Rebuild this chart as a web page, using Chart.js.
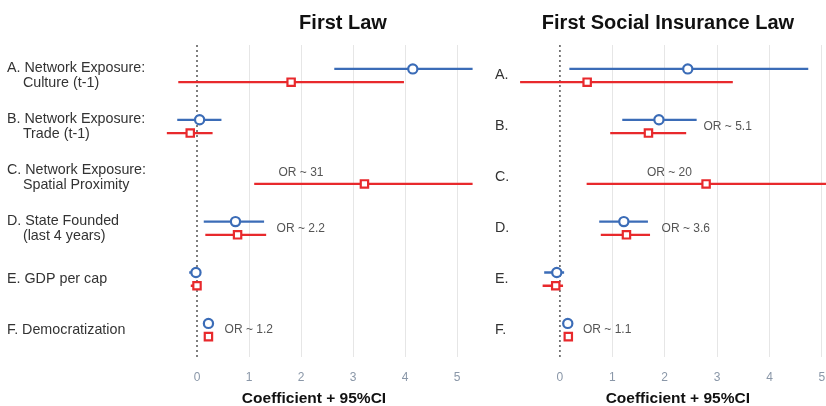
<!DOCTYPE html>
<html>
<head>
<meta charset="utf-8">
<script src="https://cdn.jsdelivr.net/npm/chart.js@4/dist/chart.umd.min.js"></script>
<style>
  html, body { margin: 0; padding: 0; background: #fff; }
  body { width: 826px; height: 406px; overflow: hidden; position: relative;
         font-family: "Liberation Sans", Arial, sans-serif; }
  .panel { position: absolute; top: 0; height: 406px; }
  #leftWrap { left: 0; width: 480px; }
  #rightWrap { left: 480px; width: 365px; }
  .title { position: absolute; top: 11px; font-weight: bold; font-size: 20px;
           color: #111; transform: translateX(-50%); white-space: nowrap; }
</style>
</head>
<body>
<div class="panel" id="leftWrap"><canvas id="lawChart" width="480" height="406"></canvas></div>
<div class="panel" id="rightWrap"><canvas id="silChart" width="365" height="406"></canvas></div>
<div class="title" style="left:343px">First Law</div>
<div class="title" style="left:668px">First Social Insurance Law</div>

<script>
/* =========================
   DATA
========================= */

const lawLabels = [
  ["A. Network Exposure:", "    Culture (t-1)"],
  ["B. Network Exposure:", "    Trade (t-1)"],
  ["C. Network Exposure:", "    Spatial Proximity"],
  ["D. State Founded", "    (last 4 years)"],
  "E. GDP per cap",
  "F. Democratization"
];
const silLabels = ["A.", "B.", "C.", "D.", "E.", "F."];

const xTicks = [0, 1, 2, 3, 4, 5];
const xTitle = "Coefficient + 95%CI";

// First Law: blue = circle, red = square
const lawBlue   = [4.15, 0.05, null, 0.74, -0.02, 0.22];
const lawBlueLo = [2.64, -0.38, null, 0.13, -0.15, 0.19];
const lawBlueHi = [5.60, 0.47, null, 1.29, 0.06, 0.25];
const lawRed    = [1.81, -0.13, 3.22, 0.78, 0.00, 0.22];
const lawRedLo  = [-0.36, -0.58, 1.10, 0.16, -0.12, 0.19];
const lawRedHi  = [3.98, 0.30, 5.60, 1.33, 0.04, 0.25];
const lawOR     = [null, null, "OR ~ 31", "OR ~ 2.2", null, "OR ~ 1.2"];
const lawORAt   = [null, null, 2.0, 1.53, null, 0.53];

// First Social Insurance Law
const silBlue   = [2.44, 1.89, null, 1.22, -0.06, 0.15];
const silBlueLo = [0.18, 1.19, null, 0.75, -0.30, 0.12];
const silBlueHi = [4.74, 2.61, null, 1.68, 0.08, 0.18];
const silRed    = [0.52, 1.69, 2.79, 1.27, -0.08, 0.16];
const silRedLo  = [-0.76, 0.96, 0.51, 0.78, -0.33, 0.13];
const silRedHi  = [3.30, 2.41, 5.60, 1.72, 0.06, 0.19];
const silOR     = [null, "OR ~ 5.1", "OR ~ 20", "OR ~ 3.6", null, "OR ~ 1.1"];
const silORAt   = [null, 2.74, 2.09, 1.94, null, 0.44];


/* =========================
   STYLE
========================= */

const BLUE = "#3b6cb7";
const RED = "#e8292c";
const ROW_SHIFT = 0.13;   // blue above / red below the row line
const FONT = "'Liberation Sans', Arial, sans-serif";


/* =========================
   PLUGIN: zero line, CI bars, OR notes
========================= */

const forestPlugin = {
  id: "forest",
  beforeDatasetsDraw(chart, args, opts) {
    const { ctx, chartArea: a, scales: { x, y } } = chart;
    ctx.save();
    ctx.beginPath();
    ctx.rect(a.left, a.top, a.right - a.left, a.bottom - a.top);
    ctx.clip();

    // dotted zero line
    const x0 = x.getPixelForValue(0);
    ctx.strokeStyle = "#555";
    ctx.lineWidth = 1.5;
    ctx.setLineDash([2, 3]);
    ctx.beginPath();
    ctx.moveTo(x0, a.top);
    ctx.lineTo(x0, a.bottom);
    ctx.stroke();
    ctx.setLineDash([]);

    // confidence intervals
    ctx.lineWidth = 2.3;
    opts.bars.forEach(b => {
      ctx.strokeStyle = b.color;
      b.lo.forEach((lo, i) => {
        if (lo == null) return;
        const py = y.getPixelForValue(i + 1 + b.shift);
        ctx.beginPath();
        ctx.moveTo(x.getPixelForValue(lo), py);
        ctx.lineTo(x.getPixelForValue(b.hi[i]), py);
        ctx.stroke();
      });
    });
    ctx.restore();
  },
  afterDatasetsDraw(chart, args, opts) {
    const { ctx, scales: { x, y } } = chart;
    ctx.save();
    ctx.font = `12px ${FONT}`;
    ctx.fillStyle = "#555";
    ctx.textBaseline = "middle";
    opts.notes.forEach((t, i) => {
      if (!t) return;
      const px = x.getPixelForValue(opts.at[i]);
      if (opts.single[i]) {
        // only one series in the row: note sits centred above its bar
        ctx.textAlign = "center";
        ctx.fillText(t, px, y.getPixelForValue(i + 1 + ROW_SHIFT) - 11);
      } else {
        ctx.textAlign = "left";
        ctx.fillText(t, px, y.getPixelForValue(i + 1));
      }
    });
    ctx.restore();
  }
};


/* =========================
   PANELS
========================= */

function points(values, shift) {
  return values
    .map((v, i) => v == null ? null : { x: v, y: i + 1 + shift })
    .filter(p => p);
}

function makePanel(canvasId, labels, s, pad, yWidth) {
  return new Chart(document.getElementById(canvasId), {
    type: "scatter",
    data: {
      datasets: [
        {
          data: points(s.blue, -ROW_SHIFT),
          pointStyle: "circle",
          pointRadius: 4.6,
          borderColor: BLUE,
          backgroundColor: "#fff",
          borderWidth: 2.2
        },
        {
          data: points(s.red, ROW_SHIFT),
          pointStyle: "rect",
          pointRadius: 5.2,
          borderColor: RED,
          backgroundColor: "#fff",
          borderWidth: 2.2
        }
      ]
    },
    options: {
      responsive: false,
      animation: false,
      layout: { padding: pad },
      plugins: {
        legend: { display: false },
        tooltip: { enabled: false },
        forest: {
          bars: [
            { lo: s.blueLo, hi: s.blueHi, color: BLUE, shift: -ROW_SHIFT },
            { lo: s.redLo, hi: s.redHi, color: RED, shift: ROW_SHIFT }
          ],
          notes: s.or,
          at: s.orAt,
          single: s.blue.map(v => v == null)
        }
      },
      scales: {
        x: {
          type: "linear",
          min: -0.8,
          max: 5.3,
          afterBuildTicks: sc => { sc.ticks = xTicks.map(v => ({ value: v })); },
          afterFit: sc => { sc.height = 49; },
          border: { display: false },
          grid: {
            drawTicks: false,
            color: c => c.tick && c.tick.value === 0 ? "rgba(0,0,0,0)" : "#e6e6e6",
            lineWidth: 1
          },
          ticks: {
            padding: 13,
            color: "#8a97a8",
            font: { family: FONT, size: 12 }
          },
          title: {
            display: true,
            text: xTitle,
            color: "#111",
            padding: { top: 0, bottom: 0 },
            font: { family: FONT, size: 15.5, weight: "bold", lineHeight: 1 }
          }
        },
        y: {
          type: "linear",
          reverse: true,
          min: 0.4,
          max: 6.53,
          afterBuildTicks: sc => { sc.ticks = labels.map((l, i) => ({ value: i + 1 })); },
          afterFit: sc => { sc.width = yWidth; },
          border: { display: false },
          grid: { display: false, drawTicks: false },
          ticks: {
            crossAlign: "far",
            padding: 0,
            color: "#333",
            font: { family: FONT, size: 14.3, lineHeight: 1.05 },
            callback: v => labels[v - 1]
          }
        }
      }
    },
    plugins: [forestPlugin]
  });
}

makePanel("lawChart", lawLabels, {
  blue: lawBlue, blueLo: lawBlueLo, blueHi: lawBlueHi,
  red: lawRed, redLo: lawRedLo, redHi: lawRedHi,
  or: lawOR, orAt: lawORAt
}, { left: 7, right: 7.4, top: 45, bottom: 0 }, 148.4);

makePanel("silChart", silLabels, {
  blue: silBlue, blueLo: silBlueLo, blueHi: silBlueHi,
  red: silRed, redLo: silRedLo, redHi: silRedHi,
  or: silOR, orAt: silORAt
}, { left: 15, right: 6, top: 45, bottom: 0 }, 23);
</script>
</body>
</html>
